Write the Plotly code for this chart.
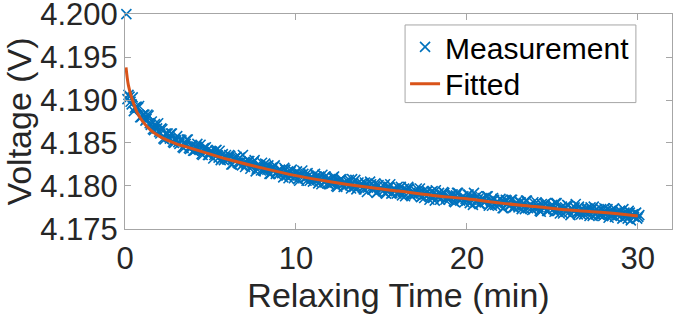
"""Voltage relaxation after charging: measurement vs fitted curve."""

import plotly.graph_objects as go

t_start = 0.08
t_step = 0.062
v_measured = [
    4.2000, 4.1901, 4.1906, 4.1904, 4.1898, 4.1895, 4.1903, 4.1887, 4.1891, 4.1892, 4.1892, 4.1891, 4.1893, 4.1880, 4.1880, 4.1882,
    4.1883, 4.1883, 4.1876, 4.1878, 4.1883, 4.1882, 4.1873, 4.1871, 4.1875, 4.1866, 4.1865, 4.1872, 4.1870, 4.1867, 4.1873, 4.1863,
    4.1861, 4.1867, 4.1866, 4.1855, 4.1854, 4.1861, 4.1861, 4.1861, 4.1857, 4.1855, 4.1861, 4.1861, 4.1851, 4.1850, 4.1854, 4.1853,
    4.1858, 4.1851, 4.1849, 4.1854, 4.1853, 4.1845, 4.1844, 4.1851, 4.1849, 4.1854, 4.1854, 4.1844, 4.1843, 4.1847, 4.1846, 4.1841,
    4.1841, 4.1842, 4.1846, 4.1849, 4.1843, 4.1842, 4.1848, 4.1837, 4.1836, 4.1844, 4.1844, 4.1845, 4.1841, 4.1836, 4.1836, 4.1840,
    4.1840, 4.1840, 4.1832, 4.1836, 4.1841, 4.1842, 4.1836, 4.1833, 4.1841, 4.1830, 4.1832, 4.1837, 4.1830, 4.1833, 4.1836, 4.1831,
    4.1831, 4.1836, 4.1835, 4.1825, 4.1825, 4.1831, 4.1832, 4.1833, 4.1834, 4.1827, 4.1826, 4.1833, 4.1828, 4.1824, 4.1836, 4.1827,
    4.1822, 4.1825, 4.1827, 4.1829, 4.1829, 4.1820, 4.1823, 4.1827, 4.1828, 4.1830, 4.1817, 4.1820, 4.1825, 4.1824, 4.1822, 4.1818,
    4.1827, 4.1818, 4.1818, 4.1826, 4.1821, 4.1819, 4.1824, 4.1814, 4.1814, 4.1821, 4.1821, 4.1822, 4.1824, 4.1814, 4.1816, 4.1818,
    4.1814, 4.1819, 4.1818, 4.1815, 4.1810, 4.1821, 4.1819, 4.1812, 4.1816, 4.1809, 4.1812, 4.1817, 4.1819, 4.1813, 4.1809, 4.1811,
    4.1816, 4.1817, 4.1808, 4.1806, 4.1813, 4.1813, 4.1818, 4.1814, 4.1809, 4.1809, 4.1806, 4.1815, 4.1812, 4.1806, 4.1810, 4.1809,
    4.1805, 4.1808, 4.1814, 4.1811, 4.1807, 4.1803, 4.1811, 4.1810, 4.1802, 4.1813, 4.1809, 4.1804, 4.1811, 4.1807, 4.1803, 4.1802,
    4.1808, 4.1803, 4.1803, 4.1810, 4.1811, 4.1804, 4.1800, 4.1799, 4.1805, 4.1806, 4.1807, 4.1808, 4.1802, 4.1799, 4.1804, 4.1804,
    4.1801, 4.1805, 4.1807, 4.1801, 4.1797, 4.1808, 4.1803, 4.1799, 4.1807, 4.1796, 4.1798, 4.1804, 4.1801, 4.1800, 4.1803, 4.1798,
    4.1796, 4.1804, 4.1802, 4.1793, 4.1798, 4.1800, 4.1805, 4.1802, 4.1796, 4.1796, 4.1799, 4.1803, 4.1792, 4.1793, 4.1801, 4.1797,
    4.1798, 4.1796, 4.1794, 4.1800, 4.1802, 4.1791, 4.1794, 4.1798, 4.1799, 4.1802, 4.1791, 4.1792, 4.1797, 4.1796, 4.1795, 4.1791,
    4.1799, 4.1792, 4.1793, 4.1799, 4.1789, 4.1793, 4.1797, 4.1788, 4.1795, 4.1795, 4.1799, 4.1797, 4.1790, 4.1788, 4.1791, 4.1793,
    4.1790, 4.1794, 4.1797, 4.1791, 4.1792, 4.1797, 4.1787, 4.1788, 4.1794, 4.1786, 4.1790, 4.1793, 4.1794, 4.1790, 4.1784, 4.1788,
    4.1793, 4.1794, 4.1787, 4.1783, 4.1795, 4.1790, 4.1788, 4.1792, 4.1784, 4.1786, 4.1790, 4.1793, 4.1792, 4.1784, 4.1786, 4.1787,
    4.1784, 4.1787, 4.1789, 4.1790, 4.1790, 4.1782, 4.1781, 4.1789, 4.1792, 4.1792, 4.1784, 4.1783, 4.1786, 4.1787, 4.1788, 4.1781,
    4.1785, 4.1783, 4.1790, 4.1790, 4.1780, 4.1784, 4.1787, 4.1778, 4.1792, 4.1786, 4.1781, 4.1788, 4.1785, 4.1779, 4.1779, 4.1784,
    4.1786, 4.1785, 4.1781, 4.1782, 4.1788, 4.1788, 4.1777, 4.1779, 4.1782, 4.1777, 4.1786, 4.1784, 4.1778, 4.1781, 4.1782, 4.1779,
    4.1778, 4.1785, 4.1783, 4.1774, 4.1774, 4.1781, 4.1784, 4.1783, 4.1781, 4.1777, 4.1777, 4.1784, 4.1784, 4.1775, 4.1775, 4.1778,
    4.1781, 4.1778, 4.1775, 4.1781, 4.1781, 4.1773, 4.1778, 4.1780, 4.1773, 4.1783, 4.1783, 4.1774, 4.1776, 4.1778, 4.1774, 4.1772,
    4.1781, 4.1774, 4.1775, 4.1781, 4.1777, 4.1775, 4.1771, 4.1770, 4.1779, 4.1777, 4.1774, 4.1779, 4.1780, 4.1771, 4.1771, 4.1775,
    4.1774, 4.1777, 4.1778, 4.1773, 4.1770, 4.1780, 4.1780, 4.1771, 4.1772, 4.1768, 4.1774, 4.1776, 4.1768, 4.1773, 4.1775, 4.1770,
    4.1778, 4.1777, 4.1770, 4.1766, 4.1774, 4.1773, 4.1771, 4.1775, 4.1779, 4.1769, 4.1767, 4.1776, 4.1771, 4.1767, 4.1774, 4.1771,
    4.1767, 4.1770, 4.1773, 4.1774, 4.1769, 4.1765, 4.1775, 4.1772, 4.1765, 4.1776, 4.1771, 4.1767, 4.1773, 4.1771, 4.1767, 4.1766,
    4.1773, 4.1767, 4.1765, 4.1774, 4.1770, 4.1768, 4.1773, 4.1763, 4.1767, 4.1771, 4.1765, 4.1772, 4.1774, 4.1764, 4.1768, 4.1769,
    4.1766, 4.1770, 4.1771, 4.1766, 4.1762, 4.1773, 4.1769, 4.1764, 4.1766, 4.1762, 4.1771, 4.1769, 4.1760, 4.1766, 4.1767, 4.1764,
    4.1768, 4.1769, 4.1762, 4.1764, 4.1766,
]
t_measured = [t_start + i * t_step for i in range(len(v_measured))]

# Fitted curve
t_fit = [0.06, 0.2, 0.4, 0.7, 1.0, 1.5, 2.0, 2.5, 3.0, 3.5, 4.5, 6, 8, 10,
         12, 14, 16, 18, 20, 22, 24, 26, 28, 30]
v_fit = [4.1938, 4.1917, 4.1902, 4.1886, 4.1876, 4.1865, 4.1858, 4.1853,
         4.1849, 4.1846, 4.1840, 4.1831, 4.1821, 4.1812, 4.1805, 4.1799,
         4.1794, 4.1789, 4.1785, 4.1780, 4.1776, 4.1772, 4.1769, 4.1765]

x_ticks = [0, 10, 20, 30]
y_ticks = [4.175, 4.180, 4.185, 4.190, 4.195, 4.200]

BLUE = "#0072BD"
ORANGE = "#D95319"
AXIS_GREY = "#a6a6a6"
TEXT = "#262626"
FONT = "Liberation Sans, Arial, sans-serif"

fig = go.Figure()
fig.add_trace(
    go.Scatter(
        x=t_measured,
        y=v_measured,
        mode="markers",
        name="Measurement",
        legend="legend",
        cliponaxis=False,
        marker=dict(symbol="x-thin", size=10, color=BLUE, line=dict(width=1.6, color=BLUE)),
    )
)
fig.add_trace(
    go.Scatter(
        x=t_fit,
        y=v_fit,
        mode="lines",
        name="Fitted",
        legend="legend2",
        line=dict(color=ORANGE, width=3, shape="spline"),
    )
)

axis_common = dict(
    showgrid=False,
    zeroline=False,
    showline=True,
    linecolor=AXIS_GREY,
    linewidth=1,
    mirror="ticks",
    ticks="inside",
    ticklen=6,
    tickcolor=AXIS_GREY,
    automargin=False,
    ticklabeloverflow="allow",
    tickfont=dict(family=FONT, size=31, color=TEXT),
)
fig.update_xaxes(
    range=[0, 32],
    tickvals=x_ticks,
    ticktext=[str(v) for v in x_ticks],
    ticklabelstandoff=2,
    title=dict(text="Relaxing Time (min)", font=dict(family=FONT, size=34, color=TEXT), standoff=7),
    **axis_common,
)
fig.update_yaxes(
    range=[4.17499, 4.20001],
    tickvals=y_ticks,
    ticktext=[f"{v:.3f}" for v in y_ticks],
    title=dict(text="Voltage (V)", font=dict(family=FONT, size=34, color=TEXT), standoff=20),
    **axis_common,
)

# one legend per entry so the rows sit as close as in the original, inside one drawn frame
legend_common = dict(
    xanchor="left",
    yanchor="middle",
    bgcolor="rgba(0,0,0,0)",
    borderwidth=0,
    font=dict(family=FONT, size=30, color="black"),
    itemwidth=30,
)
fig.update_layout(
    width=676,
    height=316,
    margin=dict(l=125, r=4, t=14, b=87),
    paper_bgcolor="white",
    plot_bgcolor="white",
    showlegend=True,
    legend=dict(x=0.512, y=0.847, **legend_common),
    legend2=dict(x=0.512, y=0.676, **legend_common),
    shapes=[
        dict(
            type="rect",
            xref="paper",
            yref="paper",
            x0=0.512,
            x1=0.934,
            y0=0.588,
            y1=0.949,
            line=dict(color=AXIS_GREY, width=1),
            fillcolor="white",
            layer="below",
        )
    ],
)

# the page body has a default 8px margin; drop it so the figure sits at the window corner
fig.write_html(
    "out.html",
    config={"displayModeBar": False},
    post_script="document.body.style.margin = '0';",
)
